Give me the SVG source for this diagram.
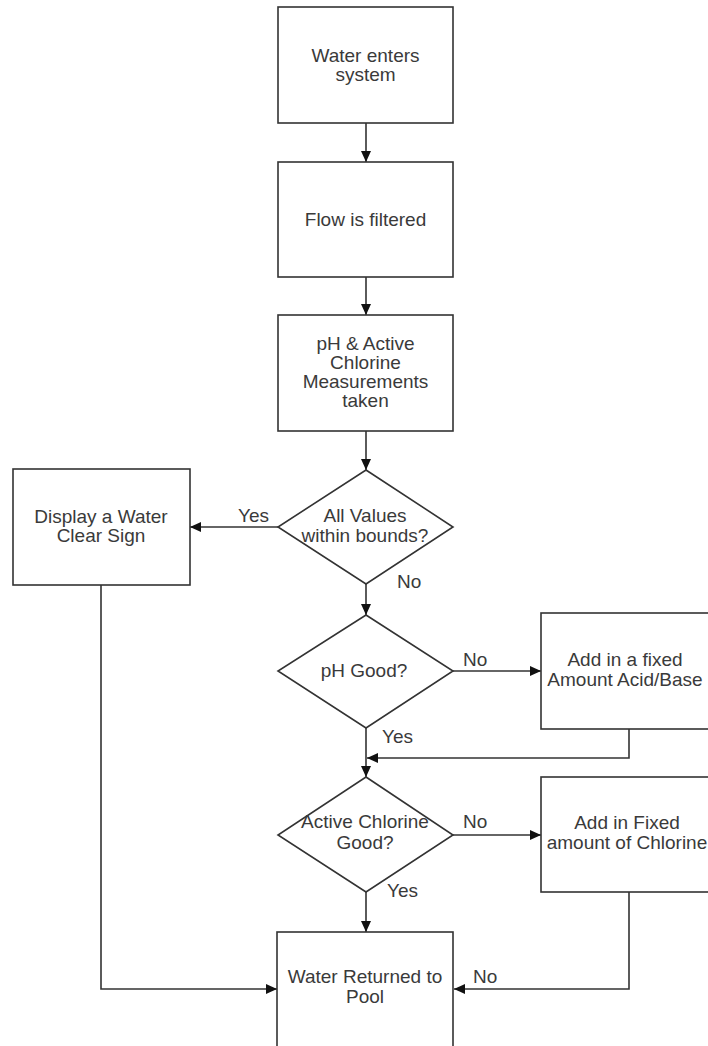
<svg xmlns="http://www.w3.org/2000/svg" width="708" height="1046" viewBox="0 0 708 1046">
  <style>
    .shape { fill: #ffffff; stroke: #333333; stroke-width: 1.6; }
    .conn { fill: none; stroke: #333333; stroke-width: 1.6; }
    text { font-family: "Liberation Sans", Arial, sans-serif; font-size: 19px; fill: #3a3a3a; }
    .c { text-anchor: middle; }
  </style>
  <defs>
    <marker id="arrow" markerUnits="userSpaceOnUse" markerWidth="12" markerHeight="10" refX="11" refY="5" orient="auto">
      <path d="M0,0 L11,5 L0,10 z" fill="#111111"/>
    </marker>
  </defs>
  <rect width="708" height="1046" fill="#ffffff"/>

  <g id="connectors">
    <path class="conn" d="M366,123 V162" marker-end="url(#arrow)"/>
    <path class="conn" d="M366,277 V315" marker-end="url(#arrow)"/>
    <path class="conn" d="M366,431 V470" marker-end="url(#arrow)"/>
    <path class="conn" d="M278,527 H190" marker-end="url(#arrow)"/>
    <path class="conn" d="M366,584 V615" marker-end="url(#arrow)"/>
    <path class="conn" d="M453,671 H541" marker-end="url(#arrow)"/>
    <path class="conn" d="M629,729 V758 H367" marker-end="url(#arrow)"/>
    <path class="conn" d="M366,728 V777" marker-end="url(#arrow)"/>
    <path class="conn" d="M453,835 H541" marker-end="url(#arrow)"/>
    <path class="conn" d="M366,892 V932" marker-end="url(#arrow)"/>
    <path class="conn" d="M629,892 V989 H454" marker-end="url(#arrow)"/>
    <path class="conn" d="M101,585 V989 H277" marker-end="url(#arrow)"/>
    <text x="238" y="522">Yes</text>
    <text x="397" y="588">No</text>
    <text x="463" y="666">No</text>
    <text x="382" y="743">Yes</text>
    <text x="463" y="828">No</text>
    <text x="387" y="897">Yes</text>
    <text x="473" y="983">No</text>
  </g>

  <g id="water-enters">
    <rect class="shape" x="278" y="7" width="175" height="116"/>
    <text class="c" x="365.5" y="62">Water enters</text>
    <text class="c" x="365.5" y="81">system</text>
  </g>

  <g id="flow-filtered">
    <rect class="shape" x="278" y="162" width="175" height="115"/>
    <text class="c" x="365.5" y="226">Flow is filtered</text>
  </g>

  <g id="measurements">
    <rect class="shape" x="278" y="315" width="175" height="116"/>
    <text class="c" x="365.5" y="350">pH &amp; Active</text>
    <text class="c" x="365.5" y="369">Chlorine</text>
    <text class="c" x="365.5" y="388">Measurements</text>
    <text class="c" x="365.5" y="407">taken</text>
  </g>

  <g id="all-values">
    <polygon class="shape" points="366,470 453,527 366,584 278,527"/>
    <text class="c" x="365" y="522">All Values</text>
    <text class="c" x="365" y="542">within bounds?</text>
  </g>

  <g id="display-clear">
    <rect class="shape" x="13" y="469" width="177" height="116"/>
    <text class="c" x="101" y="523">Display a Water</text>
    <text class="c" x="101" y="542">Clear Sign</text>
  </g>

  <g id="ph-good">
    <polygon class="shape" points="366,615 453,671 366,728 278,671"/>
    <text class="c" x="364" y="677">pH Good?</text>
  </g>

  <g id="add-acid">
    <rect class="shape" x="541" y="613" width="172" height="116"/>
    <text class="c" x="625" y="666">Add in a fixed</text>
    <text class="c" x="625" y="686">Amount Acid/Base</text>
  </g>

  <g id="chlorine-good">
    <polygon class="shape" points="366,777 453,835 366,892 278,835"/>
    <text class="c" x="365" y="828">Active Chlorine</text>
    <text class="c" x="365" y="849">Good?</text>
  </g>

  <g id="add-chlorine">
    <rect class="shape" x="541" y="777" width="172" height="115"/>
    <text class="c" x="627" y="829">Add in Fixed</text>
    <text class="c" x="627" y="849">amount of Chlorine</text>
  </g>

  <g id="water-returned">
    <rect class="shape" x="277" y="932" width="176" height="118"/>
    <text class="c" x="365" y="983">Water Returned to</text>
    <text class="c" x="365" y="1003">Pool</text>
  </g>
</svg>
